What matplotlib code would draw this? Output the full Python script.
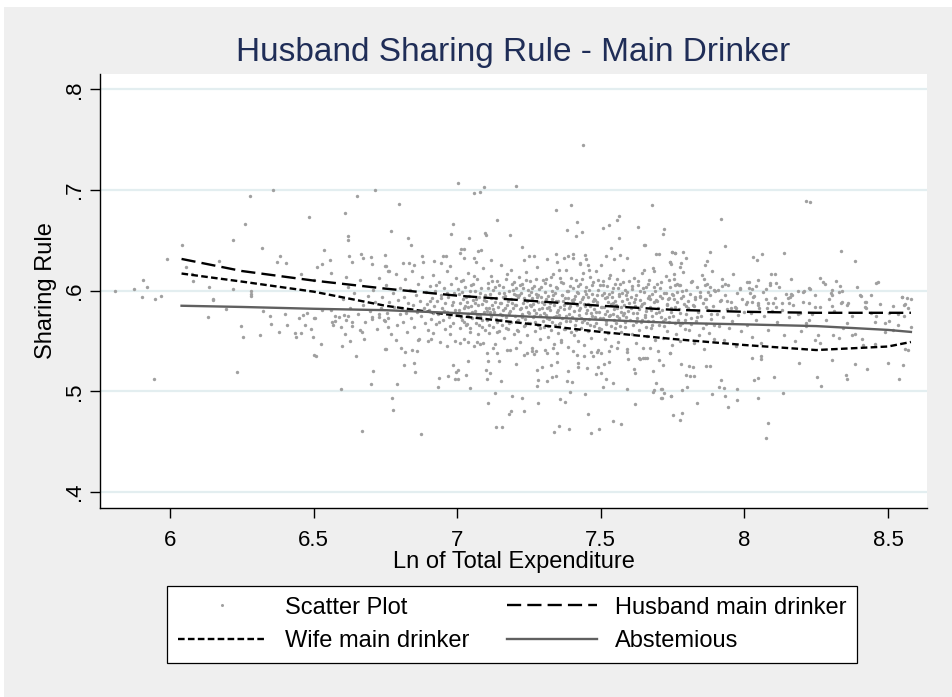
import matplotlib
matplotlib.use('Agg')
import matplotlib.pyplot as plt
from matplotlib.lines import Line2D
from matplotlib.patches import Rectangle

plt.rcParams['font.family'] = ['Liberation Sans', 'DejaVu Sans']

# fitted curves
line_x = [6.04, 6.25, 6.5, 6.75, 7.0, 7.25, 7.5, 7.75, 8.0, 8.25, 8.5, 8.58]
husband = [0.6315, 0.6195, 0.610, 0.602, 0.595, 0.590, 0.585, 0.581, 0.579, 0.578, 0.578, 0.578]
wife = [0.617, 0.609, 0.599, 0.585, 0.575, 0.567, 0.559, 0.552, 0.546, 0.541, 0.5445, 0.549]
abstemious = [0.585, 0.5838, 0.582, 0.5806, 0.5777, 0.5742, 0.571, 0.568, 0.5665, 0.5648, 0.561, 0.559]

x_ticks = [6, 6.5, 7, 7.5, 8, 8.5]
x_labels = ['6', '6.5', '7', '7.5', '8', '8.5']
y_ticks = [0.4, 0.5, 0.6, 0.7, 0.8]
y_labels = ['.4', '.5', '.6', '.7', '.8']

# scatter points, grouped by region of the cloud
scatter_left = [
    (5.808, 0.600), (5.876, 0.602), (5.905, 0.611), (5.921, 0.604), (5.901, 0.594), (5.949, 0.592),
    (5.970, 0.595), (5.990, 0.631), (6.043, 0.645), (6.056, 0.623), (6.078, 0.617), (6.080, 0.610),
    (6.137, 0.604), (6.149, 0.592), (6.171, 0.629), (6.220, 0.650), (6.220, 0.602), (6.260, 0.666),
    (6.280, 0.694), (6.359, 0.700), (6.321, 0.642), (6.282, 0.600), (6.282, 0.597), (6.283, 0.595),
    (6.384, 0.634), (6.371, 0.628), (6.404, 0.627), (6.455, 0.617), (6.485, 0.673), (6.500, 0.611),
    (6.513, 0.623), (6.530, 0.626), (6.535, 0.640), (6.557, 0.630), (6.561, 0.618), (6.609, 0.677),
    (6.619, 0.654), (6.620, 0.650), (6.623, 0.634), (6.635, 0.628), (6.611, 0.614), (6.652, 0.694),
    (6.714, 0.700), (6.666, 0.636), (6.672, 0.632), (6.700, 0.633), (6.702, 0.626), (6.748, 0.635),
    (6.749, 0.624), (6.758, 0.620), (5.945, 0.512), (6.234, 0.519), (6.132, 0.574), (6.149, 0.591),
    (6.196, 0.582), (6.246, 0.565), (6.253, 0.554), (6.312, 0.556), (6.323, 0.580), (6.349, 0.575),
    (6.353, 0.567), (6.381, 0.559), (6.399, 0.577), (6.407, 0.566), (6.435, 0.558), (6.438, 0.554),
    (6.455, 0.558), (6.450, 0.573), (6.462, 0.576), (6.477, 0.578), (6.470, 0.566), (6.492, 0.562),
    (6.499, 0.554), (6.501, 0.573), (6.505, 0.573), (6.530, 0.581), (6.559, 0.581), (6.563, 0.569),
    (6.566, 0.566), (6.576, 0.570), (6.573, 0.575), (6.590, 0.574), (6.604, 0.576), (6.621, 0.575),
    (6.635, 0.569), (6.597, 0.564), (6.608, 0.557), (6.599, 0.545), (6.501, 0.536), (6.507, 0.535),
    (6.526, 0.547), (6.627, 0.550), (6.649, 0.535), (6.597, 0.502), (6.662, 0.561), (6.669, 0.559),
    (6.675, 0.552), (6.708, 0.520), (6.699, 0.507), (6.669, 0.461), (6.702, 0.572), (6.728, 0.577),
    (6.729, 0.574), (6.748, 0.570), (6.750, 0.542), (6.759, 0.573), (6.760, 0.564),
]

scatter_upper = [
    (7.437, 0.745), (7.003, 0.707), (7.057, 0.697), (7.079, 0.698), (7.094, 0.703), (7.204, 0.704),
    (6.797, 0.686), (6.771, 0.659), (6.828, 0.652), (6.838, 0.645), (6.987, 0.666), (6.980, 0.656),
    (7.041, 0.652), (7.098, 0.657), (7.101, 0.655), (7.139, 0.670), (7.183, 0.655), (7.227, 0.643),
    (7.344, 0.680), (7.397, 0.685), (7.418, 0.668), (7.383, 0.660), (7.415, 0.654), (7.436, 0.658),
    (7.506, 0.662), (7.530, 0.665), (7.555, 0.670), (7.564, 0.674), (7.565, 0.652), (7.535, 0.642),
    (7.631, 0.663), (7.680, 0.685), (7.720, 0.661), (7.718, 0.656), (7.652, 0.645), (7.655, 0.645),
    (7.692, 0.636), (7.703, 0.636), (7.748, 0.638), (7.757, 0.637), (7.740, 0.628), (7.014, 0.641),
    (7.022, 0.641), (7.071, 0.639), (7.084, 0.640), (7.011, 0.637), (6.951, 0.634), (6.961, 0.634),
    (6.877, 0.634), (6.919, 0.629), (6.944, 0.627), (6.880, 0.628), (6.812, 0.627), (6.833, 0.627),
    (6.850, 0.625), (6.751, 0.624), (6.762, 0.620), (7.025, 0.632), (7.060, 0.632), (7.067, 0.628),
    (6.975, 0.624), (7.250, 0.634), (7.267, 0.634), (7.314, 0.631), (7.344, 0.636), (7.371, 0.632),
    (7.387, 0.634), (7.402, 0.636), (7.402, 0.632), (7.428, 0.626), (7.446, 0.635), (7.450, 0.631),
    (7.454, 0.625), (7.460, 0.621), (7.353, 0.621), (7.501, 0.625), (7.518, 0.634), (7.546, 0.631),
    (7.568, 0.635), (7.593, 0.632), (7.687, 0.620), (7.650, 0.621),
    (8.214, 0.689), (8.229, 0.688), (7.920, 0.671), (7.934, 0.644), (7.749, 0.638), (7.758, 0.637),
    (7.786, 0.638), (7.798, 0.632), (7.741, 0.628), (7.745, 0.626), (7.776, 0.623), (7.756, 0.617),
    (7.881, 0.638), (7.871, 0.629), (7.862, 0.625), (7.860, 0.612), (7.813, 0.609), (7.757, 0.606),
    (7.776, 0.606), (7.862, 0.606), (7.880, 0.604), (7.895, 0.601), (7.923, 0.605), (7.934, 0.607),
    (8.030, 0.633), (8.045, 0.630), (8.060, 0.636), (8.137, 0.637), (8.337, 0.639), (8.384, 0.629),
    (8.093, 0.617), (8.107, 0.617), (8.090, 0.608), (8.110, 0.608), (8.010, 0.609), (8.017, 0.609),
    (8.040, 0.605), (8.027, 0.602), (7.986, 0.602), (8.075, 0.602), (8.264, 0.613), (8.280, 0.607),
    (8.320, 0.610), (8.333, 0.605), (8.339, 0.600), (8.305, 0.601), (8.300, 0.598), (8.207, 0.600),
    (8.230, 0.602), (8.161, 0.597), (8.166, 0.596), (8.459, 0.608), (8.465, 0.609), (8.406, 0.595),
    (8.422, 0.589), (8.421, 0.584), (8.548, 0.594), (8.565, 0.593), (8.555, 0.586),
]

scatter_lower = [
    (6.875, 0.458), (6.775, 0.481), (6.772, 0.493), (6.790, 0.507), (6.815, 0.526), (6.852, 0.519),
    (6.848, 0.528), (6.933, 0.504), (6.935, 0.513), (6.969, 0.515), (6.984, 0.526), (6.992, 0.512),
    (7.001, 0.512), (6.997, 0.519), (7.003, 0.521), (7.032, 0.516), (7.037, 0.530), (7.045, 0.503),
    (7.100, 0.521), (7.106, 0.530), (7.113, 0.518), (7.103, 0.512), (7.154, 0.510), (7.108, 0.488),
    (7.132, 0.498), (7.135, 0.465), (7.157, 0.465), (7.181, 0.477), (7.187, 0.480), (7.190, 0.495),
    (7.227, 0.493), (7.231, 0.480), (7.205, 0.527), (7.278, 0.505), (7.281, 0.511), (7.279, 0.521),
    (7.294, 0.524), (7.311, 0.510), (7.325, 0.526), (7.330, 0.514), (7.343, 0.515), (7.282, 0.488),
    (7.336, 0.460), (7.353, 0.466), (7.357, 0.492), (7.375, 0.489), (7.390, 0.463), (7.394, 0.499),
    (7.381, 0.510), (7.401, 0.509), (7.347, 0.529), (7.386, 0.520), (7.422, 0.528), (7.421, 0.524),
    (7.444, 0.497), (7.457, 0.477), (7.467, 0.459), (7.494, 0.463), (7.452, 0.523), (7.482, 0.517),
    (7.491, 0.524), (7.499, 0.518), (7.508, 0.504), (7.519, 0.512), (7.543, 0.508), (7.510, 0.527),
    (7.527, 0.529), (7.541, 0.471), (7.569, 0.468), (7.591, 0.502), (7.619, 0.487), (7.616, 0.522),
    (7.620, 0.518), (7.595, 0.532), (7.635, 0.532), (7.654, 0.533), (7.681, 0.520), (7.702, 0.531),
    (7.685, 0.501), (7.692, 0.508), (7.683, 0.499), (7.712, 0.502), (7.719, 0.498), (7.711, 0.493),
    (7.744, 0.495), (7.753, 0.476), (7.776, 0.472),
    (6.752, 0.542), (6.786, 0.551), (6.803, 0.543), (6.818, 0.539), (6.844, 0.541), (6.859, 0.540),
    (6.863, 0.551), (6.899, 0.550), (6.908, 0.552), (6.966, 0.545), (6.992, 0.550), (7.010, 0.548),
    (7.036, 0.549), (7.068, 0.549), (7.079, 0.547), (7.102, 0.538), (7.123, 0.543), (7.140, 0.538),
    (7.145, 0.530), (7.172, 0.541), (7.203, 0.543), (7.232, 0.536), (7.242, 0.538), (7.260, 0.540),
    (7.276, 0.540), (7.306, 0.541), (7.335, 0.543), (7.349, 0.538), (7.363, 0.549), (7.404, 0.540),
    (7.416, 0.536), (7.440, 0.535), (7.466, 0.539), (7.486, 0.539), (7.502, 0.538), (7.527, 0.540),
    (7.557, 0.543), (7.591, 0.542), (7.634, 0.533), (7.648, 0.533), (7.671, 0.543), (7.698, 0.540),
    (7.716, 0.526), (7.741, 0.538),
]

scatter_right = [
    (8.076, 0.454), (8.084, 0.469), (7.944, 0.484), (7.973, 0.491), (7.931, 0.495), (7.886, 0.497),
    (7.834, 0.488), (7.783, 0.478), (7.746, 0.495), (7.783, 0.501), (7.799, 0.504), (7.708, 0.502),
    (7.714, 0.493), (7.918, 0.511), (7.910, 0.504), (7.928, 0.503), (7.973, 0.502), (8.047, 0.493),
    (8.033, 0.511), (8.047, 0.513), (8.102, 0.514), (8.133, 0.498), (8.253, 0.514), (8.267, 0.505),
    (8.353, 0.516), (8.356, 0.512), (8.537, 0.512), (8.426, 0.522), (8.306, 0.531), (8.385, 0.527),
    (8.500, 0.528), (8.551, 0.526), (8.189, 0.528), (7.795, 0.516), (7.810, 0.515), (7.823, 0.515),
    (7.807, 0.525), (7.822, 0.524), (7.865, 0.525), (7.881, 0.525), (8.026, 0.533), (8.058, 0.535),
    (8.059, 0.532), (8.559, 0.542), (8.456, 0.547), (7.779, 0.527),
    (8.213, 0.568), (8.245, 0.551), (8.265, 0.548), (8.309, 0.556), (8.329, 0.553), (8.356, 0.568),
    (8.374, 0.556), (8.385, 0.557), (8.414, 0.546), (8.488, 0.568), (8.505, 0.570), (8.517, 0.561),
    (8.571, 0.541), (8.579, 0.564), (8.186, 0.577), (8.197, 0.560), (8.225, 0.571), (8.440, 0.578),
    (8.460, 0.575), (8.536, 0.577), (8.555, 0.575),
    (8.020, 0.598), (8.031, 0.594), (8.083, 0.588), (8.100, 0.588), (8.159, 0.594), (8.205, 0.599),
    (8.304, 0.596), (8.339, 0.589), (8.402, 0.596), (8.420, 0.589), (8.548, 0.594), (8.582, 0.592),
    (8.518, 0.585), (8.559, 0.587), (8.225, 0.588), (8.245, 0.584), (8.336, 0.588), (8.356, 0.586),
    (8.304, 0.585), (8.010, 0.589), (8.027, 0.589), (8.047, 0.588), (8.047, 0.586), (8.080, 0.583),
    (8.110, 0.584), (8.130, 0.588), (8.155, 0.588), (8.151, 0.593), (7.940, 0.590), (7.918, 0.591),
    (7.972, 0.583), (7.952, 0.583), (7.828, 0.592), (7.847, 0.594), (7.866, 0.592), (7.737, 0.593),
]

scatter_core = [
    (6.603, 0.592), (6.611, 0.571), (6.618, 0.604), (6.626, 0.583), (6.634, 0.565), (6.642, 0.598),
    (6.655, 0.577), (6.663, 0.611), (6.671, 0.586), (6.680, 0.569), (6.688, 0.595), (6.696, 0.580),
    (6.703, 0.574), (6.708, 0.601), (6.714, 0.589), (6.721, 0.562), (6.727, 0.613), (6.733, 0.583),
    (6.739, 0.594), (6.745, 0.571), (6.751, 0.606), (6.757, 0.578), (6.763, 0.589), (6.769, 0.557),
    (6.775, 0.598), (6.781, 0.584), (6.786, 0.617), (6.791, 0.566), (6.795, 0.591), (6.799, 0.577),
    (6.802, 0.603), (6.806, 0.583), (6.810, 0.569), (6.814, 0.594), (6.818, 0.612), (6.822, 0.578),
    (6.826, 0.559), (6.830, 0.588), (6.835, 0.601), (6.839, 0.573), (6.843, 0.620), (6.847, 0.586),
    (6.851, 0.564), (6.855, 0.596), (6.859, 0.579), (6.863, 0.607), (6.867, 0.552), (6.871, 0.590),
    (6.875, 0.575), (6.879, 0.614), (6.883, 0.583), (6.887, 0.568), (6.891, 0.599), (6.895, 0.587),
    (6.898, 0.561), (6.901, 0.581), (6.904, 0.605), (6.907, 0.572), (6.911, 0.593), (6.914, 0.558),
    (6.917, 0.616), (6.920, 0.585), (6.924, 0.600), (6.927, 0.567), (6.930, 0.590), (6.933, 0.577),
    (6.937, 0.609), (6.940, 0.549), (6.943, 0.596), (6.946, 0.583), (6.950, 0.571), (6.953, 0.603),
    (6.956, 0.588), (6.959, 0.562), (6.963, 0.620), (6.966, 0.579), (6.969, 0.594), (6.972, 0.574),
    (6.976, 0.557), (6.979, 0.607), (6.982, 0.586), (6.985, 0.568), (6.989, 0.598), (6.992, 0.581),
    (6.996, 0.613), (7.002, 0.576), (7.005, 0.597), (7.008, 0.563), (7.011, 0.588), (7.013, 0.610),
    (7.016, 0.571), (7.019, 0.592), (7.022, 0.552), (7.024, 0.583), (7.027, 0.604), (7.030, 0.566),
    (7.033, 0.589), (7.036, 0.618), (7.038, 0.577), (7.041, 0.595), (7.044, 0.559), (7.047, 0.585),
    (7.049, 0.606), (7.052, 0.573), (7.055, 0.591), (7.058, 0.545), (7.061, 0.580), (7.063, 0.600),
    (7.066, 0.568), (7.069, 0.612), (7.072, 0.586), (7.074, 0.557), (7.077, 0.594), (7.080, 0.575),
    (7.083, 0.603), (7.086, 0.564), (7.088, 0.587), (7.091, 0.622), (7.094, 0.579), (7.096, 0.596),
    (7.098, 0.561), (7.099, 0.583), (7.090, 0.548), (7.101, 0.590), (7.104, 0.571), (7.106, 0.608),
    (7.109, 0.583), (7.111, 0.558), (7.114, 0.597), (7.116, 0.575), (7.119, 0.615), (7.121, 0.586),
    (7.124, 0.564), (7.126, 0.601), (7.129, 0.579), (7.131, 0.547), (7.134, 0.593), (7.136, 0.572),
    (7.139, 0.610), (7.141, 0.584), (7.144, 0.560), (7.146, 0.598), (7.149, 0.577), (7.151, 0.625),
    (7.154, 0.588), (7.156, 0.566), (7.159, 0.604), (7.161, 0.581), (7.164, 0.553), (7.166, 0.595),
    (7.169, 0.574), (7.171, 0.612), (7.174, 0.586), (7.176, 0.562), (7.179, 0.600), (7.181, 0.578),
    (7.184, 0.541), (7.186, 0.592), (7.189, 0.569), (7.191, 0.607), (7.194, 0.583), (7.196, 0.557),
    (7.198, 0.597), (7.117, 0.630), (7.187, 0.621), (7.201, 0.575), (7.203, 0.603), (7.206, 0.586),
    (7.208, 0.561), (7.210, 0.594), (7.213, 0.571), (7.215, 0.614), (7.217, 0.582), (7.220, 0.549),
    (7.222, 0.598), (7.224, 0.577), (7.227, 0.607), (7.229, 0.588), (7.231, 0.565), (7.234, 0.591),
    (7.236, 0.572), (7.238, 0.619), (7.241, 0.584), (7.243, 0.556), (7.245, 0.601), (7.248, 0.579),
    (7.250, 0.596), (7.252, 0.568), (7.255, 0.610), (7.257, 0.585), (7.259, 0.543), (7.262, 0.593),
    (7.264, 0.574), (7.266, 0.605), (7.269, 0.581), (7.271, 0.560), (7.273, 0.597), (7.276, 0.578),
    (7.278, 0.623), (7.280, 0.589), (7.283, 0.566), (7.285, 0.602), (7.287, 0.576), (7.290, 0.552),
    (7.292, 0.594), (7.294, 0.583), (7.297, 0.611), (7.299, 0.570), (7.233, 0.630), (7.268, 0.537),
    (7.301, 0.587), (7.303, 0.564), (7.306, 0.599), (7.308, 0.576), (7.310, 0.612), (7.313, 0.583),
    (7.315, 0.554), (7.317, 0.595), (7.320, 0.572), (7.322, 0.606), (7.324, 0.581), (7.327, 0.561),
    (7.329, 0.592), (7.331, 0.569), (7.334, 0.617), (7.336, 0.586), (7.338, 0.547), (7.341, 0.598),
    (7.343, 0.575), (7.345, 0.604), (7.348, 0.579), (7.350, 0.558), (7.352, 0.590), (7.355, 0.567),
    (7.357, 0.613), (7.359, 0.584), (7.362, 0.551), (7.364, 0.596), (7.366, 0.573), (7.369, 0.608),
    (7.371, 0.582), (7.373, 0.562), (7.376, 0.593), (7.378, 0.570), (7.380, 0.621), (7.383, 0.588),
    (7.385, 0.544), (7.387, 0.600), (7.390, 0.577), (7.392, 0.605), (7.394, 0.585), (7.397, 0.559),
    (7.399, 0.591), (7.346, 0.628), (7.312, 0.538), (7.401, 0.574), (7.403, 0.603), (7.406, 0.580),
    (7.408, 0.556), (7.410, 0.595), (7.413, 0.571), (7.415, 0.611), (7.417, 0.586), (7.420, 0.550),
    (7.422, 0.598), (7.424, 0.576), (7.427, 0.607), (7.429, 0.583), (7.431, 0.563), (7.434, 0.592),
    (7.436, 0.569), (7.438, 0.618), (7.441, 0.587), (7.443, 0.546), (7.445, 0.600), (7.448, 0.578),
    (7.450, 0.604), (7.452, 0.581), (7.455, 0.560), (7.457, 0.594), (7.459, 0.572), (7.462, 0.614),
    (7.464, 0.585), (7.466, 0.553), (7.469, 0.597), (7.471, 0.575), (7.473, 0.609), (7.476, 0.582),
    (7.478, 0.565), (7.480, 0.591), (7.483, 0.568), (7.485, 0.620), (7.487, 0.589), (7.490, 0.541),
    (7.492, 0.601), (7.494, 0.579), (7.497, 0.606), (7.499, 0.584), (7.428, 0.627), (7.474, 0.535),
    (7.501, 0.562), (7.503, 0.596), (7.506, 0.573), (7.508, 0.610), (7.510, 0.584), (7.513, 0.552),
    (7.515, 0.593), (7.517, 0.570), (7.520, 0.605), (7.522, 0.580), (7.524, 0.558), (7.527, 0.597),
    (7.529, 0.575), (7.531, 0.616), (7.534, 0.587), (7.536, 0.545), (7.538, 0.599), (7.541, 0.577),
    (7.543, 0.603), (7.545, 0.582), (7.548, 0.563), (7.550, 0.590), (7.552, 0.568), (7.555, 0.612),
    (7.557, 0.583), (7.559, 0.549), (7.562, 0.595), (7.564, 0.573), (7.566, 0.607), (7.569, 0.579),
    (7.571, 0.559), (7.573, 0.598), (7.576, 0.576), (7.578, 0.621), (7.580, 0.586), (7.583, 0.564),
    (7.585, 0.601), (7.587, 0.574), (7.590, 0.539), (7.592, 0.592), (7.595, 0.580), (7.598, 0.610),
    (7.602, 0.571), (7.605, 0.594), (7.608, 0.557), (7.610, 0.602), (7.613, 0.578), (7.616, 0.613),
    (7.618, 0.585), (7.621, 0.548), (7.624, 0.596), (7.626, 0.573), (7.629, 0.606), (7.632, 0.582),
    (7.634, 0.561), (7.637, 0.591), (7.640, 0.569), (7.642, 0.618), (7.645, 0.587), (7.648, 0.543),
    (7.650, 0.599), (7.653, 0.576), (7.656, 0.604), (7.658, 0.580), (7.661, 0.555), (7.664, 0.593),
    (7.666, 0.570), (7.669, 0.611), (7.672, 0.584), (7.674, 0.563), (7.677, 0.597), (7.680, 0.575),
    (7.682, 0.622), (7.685, 0.589), (7.688, 0.551), (7.690, 0.600), (7.693, 0.578), (7.696, 0.607),
    (7.698, 0.583), (7.662, 0.533), (7.702, 0.566), (7.705, 0.595), (7.708, 0.574), (7.711, 0.609),
    (7.714, 0.581), (7.717, 0.553), (7.720, 0.598), (7.723, 0.572), (7.726, 0.615), (7.729, 0.586),
    (7.732, 0.560), (7.735, 0.592), (7.738, 0.569), (7.741, 0.604), (7.744, 0.579), (7.747, 0.546),
    (7.750, 0.596), (7.753, 0.575), (7.756, 0.612), (7.759, 0.584), (7.762, 0.557), (7.765, 0.599),
    (7.768, 0.571), (7.771, 0.606), (7.774, 0.582), (7.777, 0.550), (7.780, 0.593), (7.783, 0.568),
    (7.786, 0.619), (7.789, 0.587), (7.792, 0.562), (7.795, 0.601), (7.798, 0.577), (7.740, 0.538),
    (7.781, 0.627), (7.803, 0.583), (7.807, 0.561), (7.810, 0.597), (7.814, 0.573), (7.817, 0.610),
    (7.821, 0.586), (7.824, 0.548), (7.828, 0.594), (7.831, 0.570), (7.835, 0.604), (7.838, 0.579),
    (7.842, 0.556), (7.845, 0.599), (7.849, 0.575), (7.852, 0.616), (7.856, 0.588), (7.859, 0.542),
    (7.863, 0.592), (7.866, 0.567), (7.870, 0.607), (7.873, 0.581), (7.877, 0.558), (7.880, 0.596),
    (7.884, 0.572), (7.887, 0.620), (7.891, 0.585), (7.894, 0.552), (7.898, 0.600), (7.903, 0.577),
    (7.907, 0.601), (7.912, 0.565), (7.916, 0.590), (7.921, 0.612), (7.925, 0.574), (7.930, 0.551),
    (7.934, 0.596), (7.939, 0.582), (7.943, 0.606), (7.948, 0.563), (7.952, 0.589), (7.957, 0.570),
    (7.961, 0.617), (7.966, 0.584), (7.970, 0.545), (7.975, 0.598), (7.979, 0.576), (7.984, 0.603),
    (7.988, 0.560), (7.993, 0.592), (7.997, 0.579), (8.004, 0.587), (8.010, 0.566), (8.016, 0.603),
    (8.022, 0.578), (8.028, 0.554), (8.034, 0.595), (8.040, 0.571), (8.046, 0.611), (8.052, 0.583),
    (8.058, 0.548), (8.064, 0.599), (8.070, 0.575), (8.076, 0.592), (8.082, 0.561), (8.088, 0.606),
    (8.095, 0.580), (8.106, 0.593), (8.114, 0.569), (8.122, 0.604), (8.130, 0.581), (8.138, 0.556),
    (8.146, 0.597), (8.154, 0.574), (8.162, 0.612), (8.170, 0.586), (8.178, 0.550), (8.186, 0.600),
    (8.194, 0.578), (8.205, 0.589), (8.215, 0.565), (8.225, 0.603), (8.235, 0.577), (8.245, 0.596),
    (8.255, 0.556), (8.265, 0.584), (8.275, 0.609), (8.285, 0.571), (8.295, 0.592), (8.312, 0.580),
    (8.328, 0.599), (8.344, 0.563), (8.360, 0.588), (8.376, 0.575), (8.392, 0.604), (8.408, 0.552),
    (8.424, 0.583), (8.440, 0.596), (8.456, 0.569), (8.472, 0.587), (8.488, 0.559), (8.504, 0.578),
    (8.535, 0.566), (8.570, 0.583),
]

# extra points in the darkest part of the cloud
scatter_dense = [
    (7.007, 0.581), (7.015, 0.599), (7.023, 0.569), (7.031, 0.594), (7.039, 0.584), (7.046, 0.563),
    (7.054, 0.607), (7.062, 0.588), (7.070, 0.576), (7.078, 0.598), (7.085, 0.571), (7.093, 0.591),
    (7.103, 0.580), (7.110, 0.566), (7.118, 0.593), (7.125, 0.582), (7.133, 0.604), (7.140, 0.569),
    (7.148, 0.588), (7.155, 0.576), (7.163, 0.598), (7.170, 0.563), (7.178, 0.590), (7.185, 0.580),
    (7.193, 0.601), (7.202, 0.586), (7.209, 0.570), (7.216, 0.596), (7.223, 0.583), (7.230, 0.603),
    (7.237, 0.566), (7.244, 0.590), (7.251, 0.578), (7.258, 0.599), (7.265, 0.587), (7.272, 0.569),
    (7.279, 0.594), (7.286, 0.582), (7.293, 0.604), (7.302, 0.578), (7.309, 0.592), (7.316, 0.565),
    (7.323, 0.588), (7.330, 0.600), (7.337, 0.574), (7.344, 0.590), (7.351, 0.581), (7.358, 0.568),
    (7.365, 0.596), (7.372, 0.586), (7.379, 0.575), (7.386, 0.593), (7.393, 0.570), (7.402, 0.589),
    (7.409, 0.566), (7.416, 0.599), (7.423, 0.581), (7.430, 0.573), (7.437, 0.594), (7.444, 0.585),
    (7.451, 0.568), (7.458, 0.601), (7.465, 0.578), (7.472, 0.590), (7.479, 0.574), (7.486, 0.596),
    (7.493, 0.563), (7.504, 0.584), (7.511, 0.598), (7.518, 0.567), (7.525, 0.589), (7.532, 0.576),
    (7.539, 0.594), (7.546, 0.571), (7.553, 0.586), (7.560, 0.603), (7.567, 0.565), (7.574, 0.590),
    (7.581, 0.578), (7.588, 0.596), (7.604, 0.583), (7.611, 0.566), (7.619, 0.592), (7.627, 0.578),
    (7.635, 0.600), (7.643, 0.571), (7.651, 0.588), (7.659, 0.564), (7.667, 0.595), (7.675, 0.581),
    (7.683, 0.570), (7.691, 0.591), (7.703, 0.579), (7.712, 0.593), (7.721, 0.565), (7.730, 0.587),
    (7.739, 0.574), (7.748, 0.597), (7.757, 0.568), (7.766, 0.589), (7.775, 0.578), (7.784, 0.600),
    (7.793, 0.571), (6.905, 0.590), (6.915, 0.578), (6.925, 0.606), (6.935, 0.569), (6.945, 0.593),
    (6.955, 0.580), (6.965, 0.598), (6.975, 0.565), (6.985, 0.589), (6.995, 0.576), (7.805, 0.590),
    (7.815, 0.567), (7.825, 0.585), (7.835, 0.574), (7.845, 0.595), (7.855, 0.563), (7.865, 0.584),
    (7.875, 0.599), (7.885, 0.577), (7.895, 0.566),
]

scatter_dense_top = [
    (7.004, 0.602), (7.012, 0.574), (7.020, 0.611), (7.028, 0.585), (7.035, 0.567), (7.043, 0.600),
    (7.051, 0.579), (7.059, 0.615), (7.067, 0.592), (7.075, 0.566), (7.107, 0.603), (7.115, 0.579),
    (7.122, 0.610), (7.130, 0.589), (7.137, 0.559), (7.145, 0.606), (7.152, 0.571), (7.160, 0.594),
    (7.167, 0.583), (7.175, 0.617), (7.182, 0.568), (7.190, 0.588), (7.197, 0.609), (7.205, 0.596),
    (7.212, 0.560), (7.219, 0.606), (7.226, 0.574), (7.233, 0.593), (7.240, 0.611), (7.247, 0.568),
    (7.254, 0.586), (7.261, 0.603), (7.268, 0.575), (7.275, 0.612), (7.282, 0.596), (7.289, 0.563),
    (7.296, 0.589), (7.305, 0.608), (7.312, 0.573), (7.319, 0.584), (7.326, 0.614), (7.333, 0.596),
    (7.340, 0.566), (7.347, 0.603), (7.354, 0.576), (7.361, 0.609), (7.368, 0.590), (7.375, 0.562),
    (7.382, 0.600), (7.389, 0.583), (7.396, 0.613), (7.405, 0.592), (7.412, 0.561), (7.419, 0.605),
    (7.426, 0.589), (7.433, 0.612), (7.440, 0.571), (7.447, 0.597), (7.454, 0.587), (7.461, 0.566),
    (7.468, 0.606), (7.475, 0.592), (7.482, 0.579), (7.489, 0.611), (7.496, 0.573), (7.507, 0.606),
    (7.514, 0.577), (7.521, 0.594), (7.528, 0.613), (7.535, 0.565), (7.542, 0.588), (7.549, 0.607),
    (7.556, 0.575), (7.563, 0.597), (7.570, 0.584), (7.577, 0.609), (7.584, 0.569), (7.591, 0.599),
    (7.597, 0.588), (7.607, 0.605), (7.615, 0.589), (7.623, 0.569), (7.631, 0.610), (7.639, 0.585),
    (7.647, 0.603), (7.655, 0.574), (7.663, 0.607), (7.671, 0.592), (7.679, 0.566), (7.687, 0.604),
    (7.695, 0.590), (7.706, 0.603), (7.716, 0.570), (7.726, 0.598), (7.736, 0.611), (7.746, 0.583),
    (7.756, 0.592), (7.766, 0.607), (7.776, 0.566), (7.786, 0.595), (7.796, 0.585),
]

points = (scatter_left + scatter_upper + scatter_lower + scatter_right + scatter_core
          + scatter_dense + scatter_dense_top)
sx = [p[0] for p in points]
sy = [p[1] for p in points]

fig = plt.figure(figsize=(9.52, 6.97), dpi=100, facecolor='white')
# Stata-style light grey graph region
fig.patches.append(Rectangle((4 / 952, 0), 948 / 952, 690 / 697, transform=fig.transFigure,
                             facecolor='#efefef', edgecolor='none', zorder=-10))

ax = fig.add_axes([100 / 952, 189 / 697, 827 / 952, 434 / 697])
ax.set_facecolor('white')

ax.scatter(sx, sy, s=6, color='#a0a0a0', linewidths=0, zorder=2)
ax.plot(line_x, husband, color='black', lw=1.7, ls=(0, (6, 2.6)), zorder=3)
ax.plot(line_x, wife, color='black', lw=1.7, ls=(0, (2.8, 1.4)), zorder=3)
ax.plot(line_x, abstemious, color='#606060', lw=1.7, zorder=3)

ax.set_xlim(5.756, 8.636)
ax.set_ylim(0.3841, 0.8152)
ax.set_xticks(x_ticks)
ax.set_xticklabels(x_labels)
ax.set_yticks(y_ticks)
ax.set_yticklabels(y_labels, rotation=90, va='center')

ax.yaxis.grid(True, color='#e3eef0', lw=1.6)
ax.set_axisbelow(True)
for side in ['top', 'right']:
    ax.spines[side].set_visible(False)
for side in ['left', 'bottom']:
    ax.spines[side].set_linewidth(1.0)
    ax.spines[side].set_color('black')
ax.tick_params(axis='both', length=7.2, width=1.0, labelsize=16, direction='out')
ax.tick_params(axis='x', pad=8.5)
ax.tick_params(axis='y', pad=3.8)

ax.set_xlabel('Ln of Total Expenditure', fontsize=17, labelpad=0)
ax.set_ylabel('Sharing Rule', fontsize=17, labelpad=5)
ax.set_title('Husband Sharing Rule - Main Drinker', fontsize=24, color='#1f2d57', pad=9)

handles = [
    Line2D([], [], ls='none', marker='o', ms=2.2, mfc='#a0a0a0', mec='none'),
    Line2D([], [], color='black', lw=1.7, ls=(0, (2.8, 1.4))),
    Line2D([], [], color='black', lw=1.7, ls=(0, (6, 2.6))),
    Line2D([], [], color='#606060', lw=1.7),
]
labels = ['Scatter Plot', 'Wife main drinker', 'Husband main drinker', 'Abstemious']
leg = fig.legend(handles, labels, ncol=2, loc='upper left', mode='expand',
                 bbox_to_anchor=(167 / 952, 34 / 697, 690 / 952, 77 / 697),
                 borderaxespad=0, fontsize=17, frameon=True, fancybox=False, framealpha=1,
                 edgecolor='black', facecolor='white', handlelength=3.8,
                 handletextpad=0.75, labelspacing=0.5, borderpad=0.45,
                 columnspacing=1.3, numpoints=1)
leg.get_frame().set_linewidth(0.9)

fig.savefig('out.png', dpi=100, facecolor=fig.get_facecolor())
